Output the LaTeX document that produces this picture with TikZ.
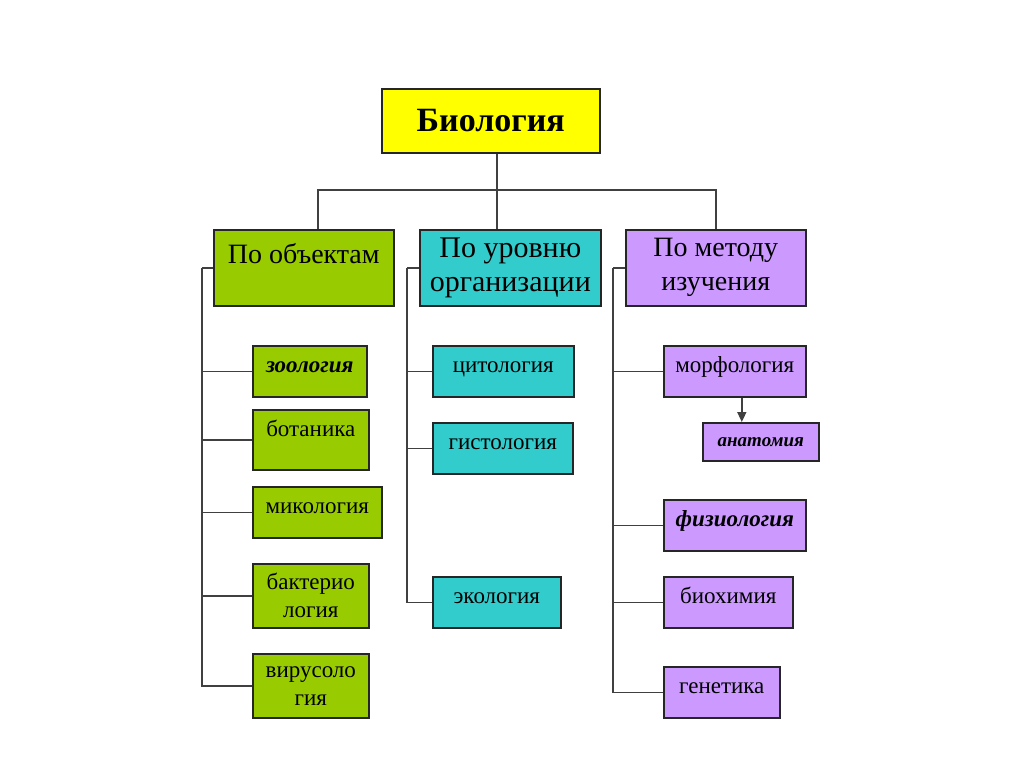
\documentclass[tikz,border=0pt]{standalone}
\usepackage{fontspec}
\setmainfont{Liberation Serif}
\usetikzlibrary{positioning, arrows.meta}
\definecolor{bioyellow}{HTML}{FFFF00}
\definecolor{objgreen}{HTML}{99CC00}
\definecolor{lvlteal}{HTML}{33CCCC}
\definecolor{metviolet}{HTML}{CC99FF}

\begin{document}
\begin{tikzpicture}[x=1pt, y=-1pt,
    box/.style={draw=black!85, line width=1.6pt, inner xsep=0pt, anchor=north west, align=center},
    catbox/.style={box, minimum width=180pt, minimum height=76pt, font=\fontsize{28}{34}\selectfont},
    leaf/.style={box, inner ysep=0pt, font=\fontsize{23}{28}\selectfont},
    oneline/.style={text height=27pt, text depth=#1},
    link/.style={draw=black!75, line width=1.6pt}]
\useasboundingbox[fill=white] (0,0) rectangle (1024,767);

% top level
\node[box, fill=bioyellow, minimum width=218pt, minimum height=64pt, font=\fontsize{34}{40}\selectfont\bfseries] (bio) at (381,88) {Биология};

\node[catbox, fill=objgreen, inner ysep=0pt, text height=34pt, text depth=42pt] (obj) at (213,229) {По объектам};
\node[catbox, fill=lvlteal, minimum width=181pt, font=\fontsize{30}{34}\selectfont] (lvl) at (419,229) {По уровню\\организации};
\node[catbox, fill=metviolet] (met) at (625,229) {По методу\\изучения};

\coordinate (hub) at (497,190);
\draw[link] (bio.south -| hub) -- (hub);
\draw[link] ([xshift=14pt]obj.north) |- (hub);
\draw[link] (lvl.north -| hub) -- (hub);
\draw[link] (met.north) |- (hub);

% by objects
\node[leaf, fill=objgreen, oneline=24pt, minimum width=114pt] (zoo) at (252,345) {\textbf{\textit{зоология}}};
\node[leaf, fill=objgreen, oneline=33pt, minimum width=116pt] (bot) at (252,409) {ботаника};
\node[leaf, fill=objgreen, oneline=24pt, minimum width=129pt] (myc) at (252,486) {микология};
\node[leaf, fill=objgreen, minimum width=116pt, minimum height=64pt] (bac) at (252,563) {бактерио\\логия};
\node[leaf, fill=objgreen, minimum width=116pt, minimum height=64pt] (vir) at (252,653) {вирусоло\\гия};

\draw[link] (obj.west) -- ++(-11,0) coordinate (objrail);
\foreach \n in {zoo, bot, myc, bac, vir}
    \draw[link] (\n.west) -| (objrail);

% by level of organisation
\node[leaf, fill=lvlteal, oneline=24pt, minimum width=141pt] (cyt) at (432,345) {цитология};
\node[leaf, fill=lvlteal, oneline=24pt, minimum width=140pt] (his) at (432,422) {гистология};
\node[leaf, fill=lvlteal, oneline=24pt, minimum width=128pt] (eco) at (432,576) {экология};

\draw[link] (lvl.west) -- ++(-12,0) coordinate (lvlrail);
\foreach \n in {cyt, his, eco}
    \draw[link] (\n.west) -| (lvlrail);

% by method of study
\node[leaf, fill=metviolet, oneline=24pt, minimum width=142pt] (mor) at (663,345) {морфология};
\node[leaf, fill=metviolet, text height=24pt, text depth=14pt, minimum width=116pt, font=\fontsize{19}{23}\selectfont\bfseries\itshape] (ana) at (702,422) {анатомия};
\node[leaf, fill=metviolet, oneline=24pt, minimum width=142pt] (phy) at (663,499) {\textbf{\textit{физиология}}};
\node[leaf, fill=metviolet, oneline=24pt, minimum width=129pt] (bch) at (663,576) {биохимия};
\node[leaf, fill=metviolet, oneline=24pt, minimum width=116pt] (gen) at (663,666) {генетика};

\draw[link] (met.west) -- ++(-12,0) coordinate (metrail);
\foreach \n in {mor, phy, bch, gen}
    \draw[link] (\n.west) -| (metrail);
\draw[link, -{Triangle[length=10pt, width=9pt]}] ([xshift=7pt]mor.south) -- ([xshift=7pt]mor.south |- ana.north);
\end{tikzpicture}
\end{document}
